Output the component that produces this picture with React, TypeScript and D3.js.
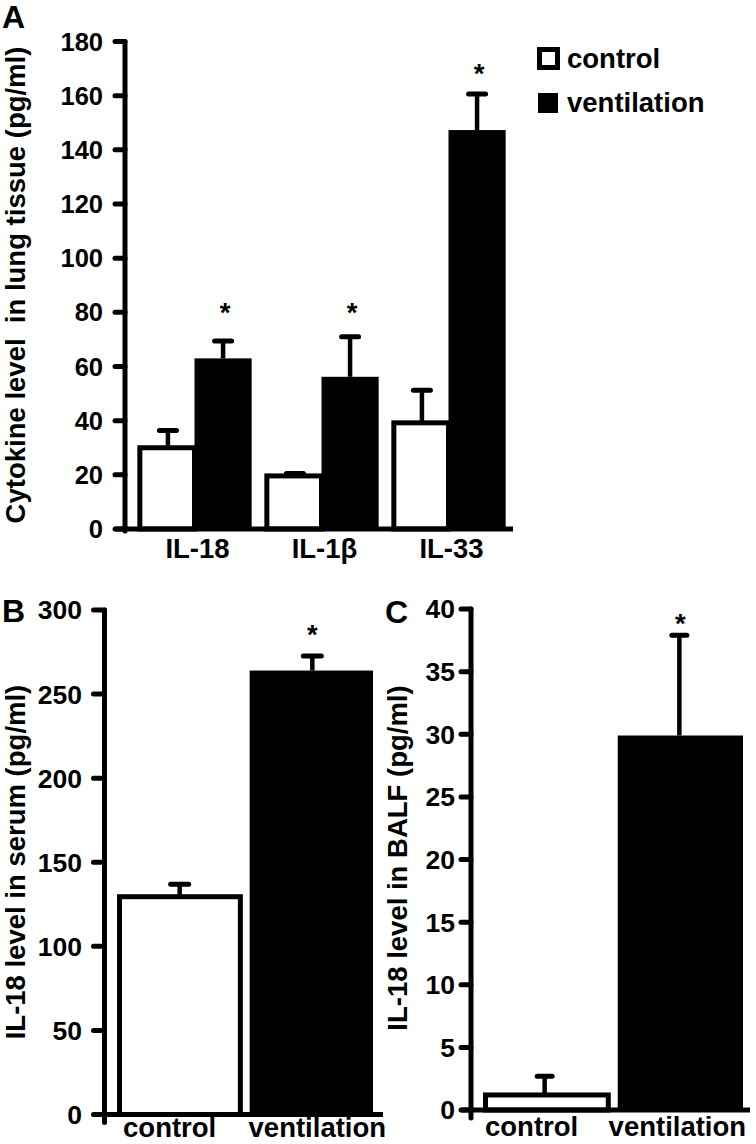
import React from 'react';
import * as d3 from 'd3';

// ---------- data ----------
const cytokines = ['IL-18', 'IL-1β', 'IL-33'];
const groups = ['control', 'ventilation'];
const lungControl = [30, 19.6, 39.2];
const lungControlErr = [6.4, 0.9, 12.0];
const lungVent = [63.0, 56.2, 147.3];
const lungVentErr = [6.4, 14.8, 13.3];
const lungStar = [81.8, 81.8, 170.2];
const lungTicks = [0, 20, 40, 60, 80, 100, 120, 140, 160, 180];

const serumMean = [129.5, 264];
const serumErr = [7.4, 8.6];
const serumStar = 288.6;
const serumTicks = [0, 50, 100, 150, 200, 250, 300];

const balfMean = [1.2, 29.9];
const balfErr = [1.5, 8.0];
const balfStar = 39.3;
const balfTicks = [0, 5, 10, 15, 20, 25, 30, 35, 40];

const FONT = '"Liberation Sans", Arial, Helvetica, sans-serif';

export default function App() {
  // ---------- Panel A scales ----------
  const yA = d3.scaleLinear().domain([0, 180]).range([529, 41.5]);
  const xA = d3.scaleBand().domain(cytokines).range([131, 512]).paddingInner(0.1).paddingOuter(0.05);
  const subA = d3.scaleBand().domain(groups).range([0, xA.bandwidth()]);
  const axA = 125;

  // ---------- Panel B ----------
  const yB = d3.scaleLinear().domain([0, 300]).range([1114.5, 610]);
  const xB = d3.scaleBand().domain(groups).range([117, 373]).paddingInner(0.07);
  const axB = 104.5;

  // ---------- Panel C ----------
  const yC = d3.scaleLinear().domain([0, 40]).range([1110, 609]);
  const xC = d3.scaleBand().domain(groups).range([483, 743]).paddingInner(0.07);
  const axC = 471;

  const SW = 5;

  const bar = (key: string, x0: number, w: number, y: (v: number) => number, v: number, filled: boolean) =>
    filled ? (
      <rect key={key} x={x0} y={y(v)} width={w} height={y(0) - y(v)} fill="#000" />
    ) : (
      <rect key={key} x={x0 + SW / 2} y={y(v)} width={w - SW / 2} height={y(0) - y(v)} fill="#fff" stroke="#000" strokeWidth={SW} />
    );

  const errBar = (key: string, cx: number, y: (v: number) => number, v: number, e: number, cap: number) => (
    <g key={key}>
      <line x1={cx} x2={cx} y1={y(v)} y2={y(v + e)} stroke="#000" strokeWidth={4.5} />
      <line x1={cx - cap / 2} x2={cx + cap / 2} y1={y(v + e)} y2={y(v + e)} stroke="#000" strokeWidth={5} strokeLinecap="round" />
    </g>
  );

  const star = (key: string, cx: number, yy: number, fs: number) => (
    <text key={key} x={cx} y={yy + 15} textAnchor="middle" fontSize={fs} fontWeight="bold" fontFamily={FONT}>*</text>
  );

  const yAxis = (
    key: string,
    ax: number,
    y: (v: number) => number,
    ticks: number[],
    tickLen: number,
    labelX: number,
    fs: number,
    bottomExt: number
  ) => (
    <g key={key}>
      <line x1={ax} x2={ax} y1={y(ticks[ticks.length - 1])} y2={y(0) + bottomExt} stroke="#000" strokeWidth={SW} strokeLinecap="round" />
      {ticks.map((t) => (
        <g key={t}>
          <line x1={ax - tickLen} x2={ax} y1={y(t)} y2={y(t)} stroke="#000" strokeWidth={SW} strokeLinecap="round" />
          <text x={labelX} y={y(t) + 0.358 * fs} textAnchor="end" fontSize={fs} fontWeight="bold" fontFamily={FONT}>{t}</text>
        </g>
      ))}
    </g>
  );

  const labelDxA = 3;
  const labelDxB = [-9, 6];
  const labelDxC = [-14, -3];

  return (
    <svg width={756} height={1144} style={{ position: 'absolute', left: 0, top: 0, background: '#fff' }} fontFamily={FONT}>
      <rect x={0} y={0} width={756} height={1144} fill="#fff" />

      {/* ================= Panel A ================= */}
      <text x={2} y={28} fontSize={32} fontWeight="bold">A</text>
      <text transform={`translate(25,285) rotate(-90)`} textAnchor="middle" fontSize={27.5} fontWeight="bold" style={{ whiteSpace: 'pre' }}>
        {'Cytokine level  in lung tissue (pg/ml)'}
      </text>

      {cytokines.map((c, i) => {
        const g = xA(c)!;
        const w = subA.bandwidth();
        const cx0 = g + subA('control')! + w / 2 + 2;
        const cx1 = g + subA('ventilation')! + w / 2;
        return (
          <g key={c}>
            {errBar('ec' + i, cx0, yA, lungControl[i], lungControlErr[i], 17)}
            {bar('bc' + i, g + subA('control')!, w, yA, lungControl[i], false)}
            {errBar('ev' + i, cx1, yA, lungVent[i], lungVentErr[i], 17)}
            {bar('bv' + i, g + subA('ventilation')!, w, yA, lungVent[i], true)}
            {star('s' + i, cx1 + 2, yA(lungStar[i]), 27.5)}
            <text x={g + xA.bandwidth() / 2 + labelDxA} y={558} textAnchor="middle" fontSize={27.5} fontWeight="bold">{c}</text>
          </g>
        );
      })}
      {yAxis('ya', axA, yA, lungTicks, 10, 103, 25.5, 2)}
      <line x1={axA - 10} x2={513} y1={yA(0)} y2={yA(0)} stroke="#000" strokeWidth={SW} />

      {/* legend */}
      <rect x={539.5} y={49.5} width={18} height={18} fill="#fff" stroke="#000" strokeWidth={SW} />
      <text x={567} y={68} fontSize={27.5} fontWeight="bold">{groups[0]}</text>
      <rect x={538} y={93} width={20} height={20} fill="#000" />
      <text x={567} y={112} fontSize={27.5} fontWeight="bold">{groups[1]}</text>

      {/* ================= Panel B ================= */}
      <text x={2} y={622} fontSize={32} fontWeight="bold">B</text>
      <text transform={`translate(25,862) rotate(-90)`} textAnchor="middle" fontSize={27.5} fontWeight="bold">
        IL-18 level in serum (pg/ml)
      </text>
      {groups.map((g, i) => {
        const x0 = xB(g)!;
        const w = xB.bandwidth();
        const cx = x0 + w / 2 + 1;
        return (
          <g key={'b' + g}>
            {errBar('be' + i, cx, yB, serumMean[i], serumErr[i], 18)}
            {bar('bb' + i, x0, w, yB, serumMean[i], i === 1)}
            <text x={x0 + w / 2 + labelDxB[i]} y={1137} textAnchor="middle" fontSize={27.5} fontWeight="bold">{g}</text>
          </g>
        );
      })}
      {star('bs', xB('ventilation')! + xB.bandwidth() / 2 + 1, yB(serumStar), 27.5)}
      {yAxis('yb', axB, yB, serumTicks, 11, 82, 26.5, 8)}
      <line x1={axB - 11} x2={383} y1={yB(0)} y2={yB(0)} stroke="#000" strokeWidth={SW} />

      {/* ================= Panel C ================= */}
      <text x={385} y={623} fontSize={32} fontWeight="bold">C</text>
      <text transform={`translate(407,858) rotate(-90)`} textAnchor="middle" fontSize={27.5} fontWeight="bold">
        IL-18 level in BALF (pg/ml)
      </text>
      {groups.map((g, i) => {
        const x0 = xC(g)!;
        const w = xC.bandwidth();
        const cx = x0 + w / 2 - 1;
        return (
          <g key={'c' + g}>
            {errBar('ce' + i, cx, yC, balfMean[i], balfErr[i], 15)}
            {bar('cb' + i, x0, w, yC, balfMean[i], i === 1)}
            <text x={x0 + w / 2 + labelDxC[i]} y={1136} textAnchor="middle" fontSize={27.5} fontWeight="bold">{g}</text>
          </g>
        );
      })}
      {star('cs', xC('ventilation')! + xC.bandwidth() / 2, yC(balfStar), 27.5)}
      {yAxis('yc', axC, yC, balfTicks, 10, 455, 26.5, 8)}
      <line x1={axC - 10} x2={750} y1={yC(0)} y2={yC(0)} stroke="#000" strokeWidth={SW} />
    </svg>
  );
}
